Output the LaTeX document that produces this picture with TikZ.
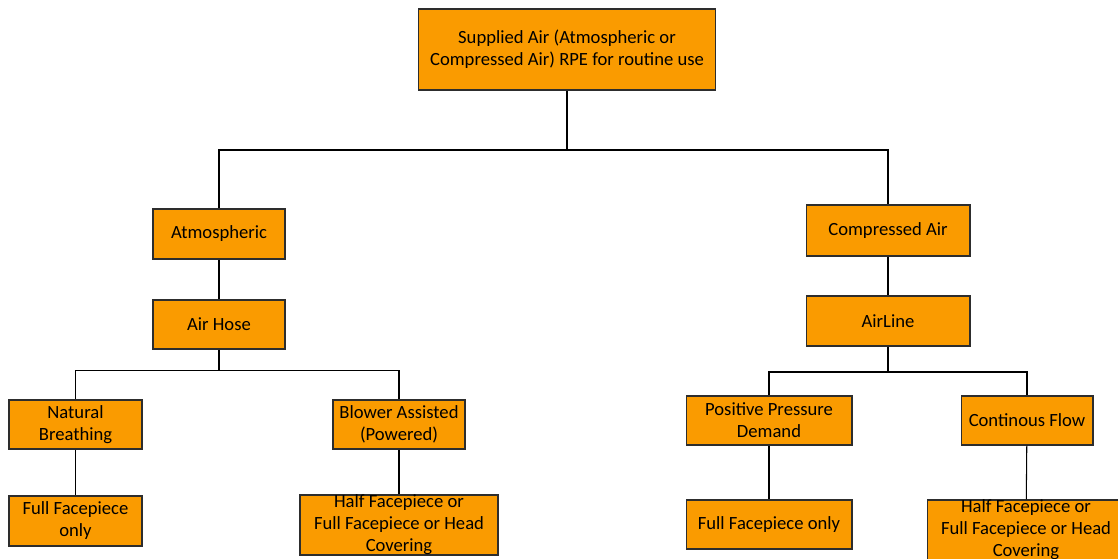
\documentclass[tikz,border=0pt]{standalone}
\usepackage{fontspec}
\setmainfont{Carlito}
\usepackage{tikz}

\definecolor{rpeorange}{RGB}{250,155,0}
\definecolor{rpeedge}{RGB}{45,45,45}

\begin{document}
\begin{tikzpicture}[x=0.02cm,y=-0.02cm]
		\tikzstyle{box} = [draw=rpeedge, fill=rpeorange, rectangle, line width=0.6pt, align=center, inner sep=2pt, font=\fontsize{10.6}{12.5}\selectfont]
		\tikzstyle{txt} = [align=center, inner sep=0pt, font=\fontsize{10.6}{12.5}\selectfont]
		\tikzstyle{wire} = [draw, line width=0.6pt]
		\useasboundingbox (0,0) rectangle (1118,558);

		\node [box, minimum width=5.94cm, minimum height=1.62cm] (sup) at (567,49.5) {Supplied Air (Atmospheric or\\Compressed Air) RPE for routine use};
		\node [box, minimum width=2.64cm, minimum height=1cm] (atm) at (219,234) {Atmospheric};
		\node [box, minimum width=3.28cm, minimum height=1.02cm] (comp) at (888,230.5) {Compressed Air};
		\node [box, minimum width=2.64cm, minimum height=0.98cm] (hose) at (219,324.5) {Air Hose};
		\node [box, minimum width=3.28cm, minimum height=1cm] (line) at (888,321) {AirLine};
		\node [box, minimum width=2.66cm, minimum height=0.98cm] (nat) at (75.5,424.5) {Natural\\Breathing};
		\node [box, minimum width=2.64cm, minimum height=0.98cm] (blow) at (399,424.5) {Blower Assisted\\(Powered)};
		\node [box, minimum width=3.32cm, minimum height=0.98cm] (ppd) at (769,420.5) {Positive Pressure\\Demand};
		\node [box, minimum width=2.64cm, minimum height=0.98cm] (cont) at (1027,420.5) {Continous Flow};
		\node [box, minimum width=2.66cm, minimum height=1cm] (ffl) at (75.5,521) {Full Facepiece\\only};
		\node [box, minimum width=3.32cm, minimum height=0.98cm] (ffr) at (769,524.5) {Full Facepiece only};
		\node [box, minimum width=3.96cm, minimum height=1.2cm] (hfl) at (399,525) {};
		\node [txt] (hfltxt) at (hfl.center) {Half Facepiece or\\Full Facepiece or Head\\Covering};
		\node [box, minimum width=3.96cm, minimum height=1.2cm] (hfr) at (1026,530) {};
		\node [txt] (hfrtxt) at (hfr.center) {Half Facepiece or\\Full Facepiece or Head\\Covering};

		\coordinate (j1) at (567,150);
		\coordinate (j2) at (219,370.5);
		\coordinate (j3) at (888,372);

		\draw[wire] (sup) -- (j1);
		\draw[wire] (j1) -| (atm);
		\draw[wire] (j1) -| (comp);
		\draw[wire] (atm) -- (hose);
		\draw[wire] (comp) -- (line);
		\draw[wire] (hose) -- (j2);
		\draw[wire] (j2) -| (nat);
		\draw[wire] (j2) -| (blow);
		\draw[wire] (line) -- (j3);
		\draw[wire] (j3) -| (ppd);
		\draw[wire] (j3) -| (cont);
		\draw[wire] (nat) -- (ffl);
		\draw[wire] (blow) -- (hfl);
		\draw[wire] (ppd) -- (ffr);
		\draw[wire] (cont) -- (hfr);
	\end{tikzpicture}
\end{document}
